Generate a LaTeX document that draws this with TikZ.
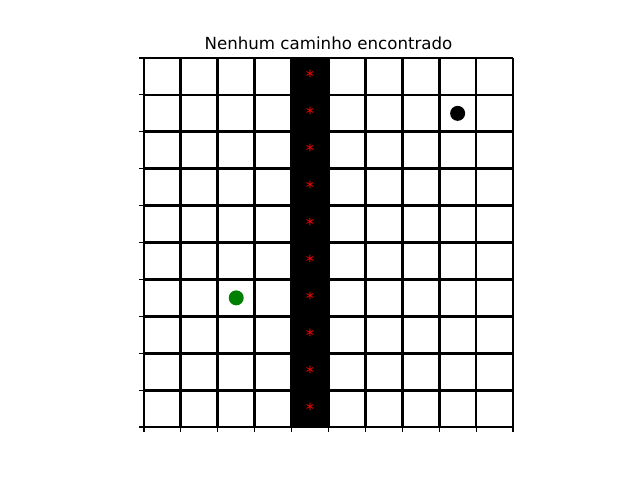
\documentclass[tikz,border=0pt]{standalone}
\usepackage{fontspec}
\setmainfont{DejaVu Sans}
\usepackage{xcolor}
\definecolor{startdot}{HTML}{008000}
\definecolor{wall}{HTML}{000000}

\begin{document}
\begin{tikzpicture}[
    x=18.45pt, y=18.45pt,
    gridline/.style={line width=1.39pt},
    axtick/.style={line width=0.56pt},
    dot/.style={circle, minimum size=7.5pt, inner sep=0pt},
    wallmark/.style={text=red, font=\fontsize{8.3}{9}\selectfont, inner sep=0pt},
]
\useasboundingbox (-3.902,-1.436) rectangle (13.442,11.572);

% Title
\node[font=\fontsize{8.33}{10}\selectfont] (title) at (5, 10.407) {Nenhum caminho encontrado};

% Wall column
\fill[wall] (4,0) rectangle (5,10);

% Grid
\foreach \i in {0,...,10} {
    \draw[gridline] (\i,0) -- (\i,10);
    \draw[gridline] (0,\i) -- (10,\i);
}

% Axis ticks
\foreach \i in {0,...,10} {
    \draw[axtick] (0,\i) -- (-0.132,\i);
    \draw[axtick] (\i,0) -- (\i,-0.132);
}

% Markers in the wall
\foreach \r in {0,...,9} {
    \node[wallmark] (mark\r) at (4.5, \r+0.49) {*};
}

% Start and goal
\node[dot, fill=startdot] (start) at (2.5, 3.5) {};
\node[dot, fill=black] (goal) at (8.5, 8.5) {};

\end{tikzpicture}
\end{document}
